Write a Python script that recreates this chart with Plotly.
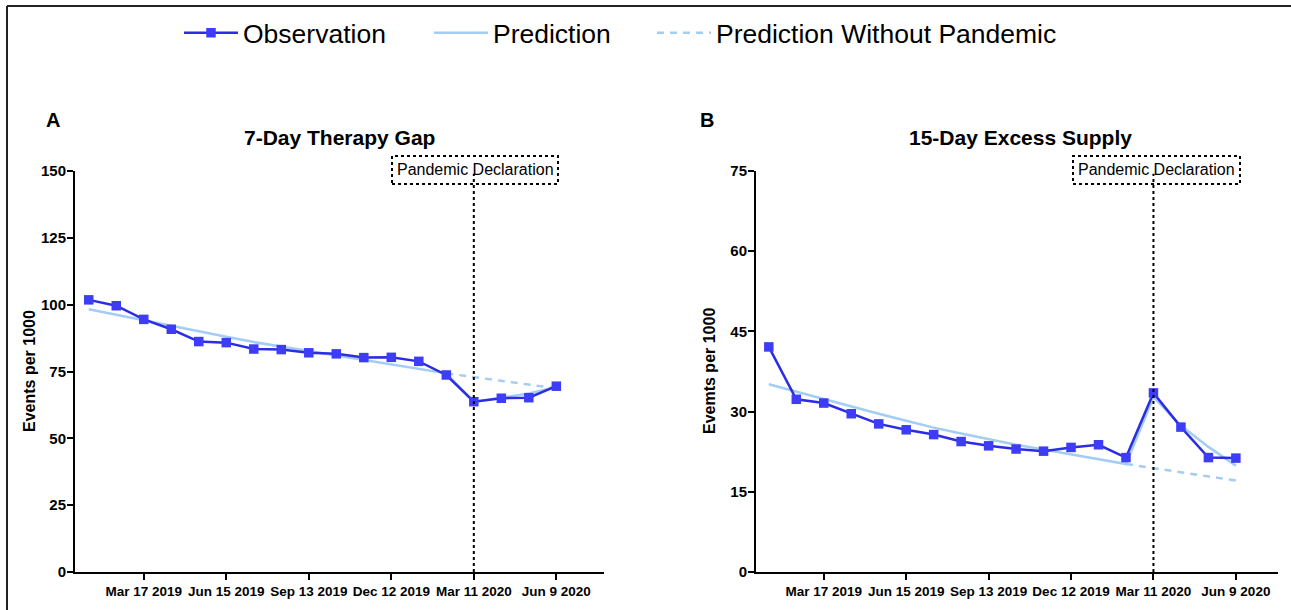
import plotly.graph_objects as go

# ---------------- data ----------------
dates = ["2019-01-16", "2019-02-15", "2019-03-17", "2019-04-16", "2019-05-16", "2019-06-15",
         "2019-07-15", "2019-08-14", "2019-09-13", "2019-10-13", "2019-11-12", "2019-12-12",
         "2020-01-11", "2020-02-10", "2020-03-11", "2020-04-10", "2020-05-10", "2020-06-09"]
cf_dates = ["2020-02-10", "2020-03-11", "2020-04-10", "2020-05-10", "2020-06-09"]

gap_obs = [101.8, 99.6, 94.5, 90.8, 86.2, 85.8, 83.4, 83.2, 82.0, 81.6, 80.2, 80.3, 78.8, 73.7,
           63.7, 65.0, 65.2, 69.5]
gap_pred = [98.3, 96.2, 94.2, 92.1, 90.0, 88.0, 86.0, 84.3, 82.7, 81.0, 79.4, 77.7, 76.0, 74.3,
            63.6, 65.1, 66.8, 69.2]
gap_cf = [74.3, 72.9, 71.5, 70.1, 68.7]

sup_obs = [42.1, 32.3, 31.6, 29.6, 27.7, 26.6, 25.7, 24.4, 23.6, 23.0, 22.6, 23.3, 23.8, 21.4,
           33.5, 27.1, 21.4, 21.3]
sup_pred = [35.1, 33.7, 32.4, 31.0, 29.6, 28.3, 27.0, 25.9, 24.8, 23.8, 22.9, 22.0, 21.1, 20.2,
            32.7, 27.4, 23.4, 19.9]
sup_cf = [20.2, 19.4, 18.6, 17.8, 17.1]

tick_dates = ["2019-03-17", "2019-06-15", "2019-09-13", "2019-12-12", "2020-03-11", "2020-06-09"]
tick_text = ["Mar 17 2019", "Jun 15 2019", "Sep 13 2019", "Dec 12 2019", "Mar 11 2020", "Jun 9 2020"]
gap_yticks = [0, 25, 50, 75, 100, 125, 150]
sup_yticks = [0, 15, 30, 45, 60, 75]
pandemic_date = "2020-03-11"

# ---------------- style ----------------
W, H = 1291, 610
OBS_LINE = "#2c2ce3"
OBS_MARK = "#3d3df7"
PRED = "#a3cdf4"
FONT = "Arial, Liberation Sans, sans-serif"


def px_x(p):
    return p / W


def px_y(p):
    return (H - p) / H


fig = go.Figure()

for i, (obs, pred, cf) in enumerate([(gap_obs, gap_pred, gap_cf), (sup_obs, sup_pred, sup_cf)]):
    xa = "x" if i == 0 else "x2"
    ya = "y" if i == 0 else "y2"
    first = i == 0
    fig.add_trace(go.Scatter(x=dates, y=pred, mode="lines", name="Prediction",
                             line=dict(color=PRED, width=2.5), xaxis=xa, yaxis=ya,
                             showlegend=first, legend="legend2"))
    fig.add_trace(go.Scatter(x=cf_dates, y=cf, mode="lines", name="Prediction Without Pandemic",
                             line=dict(color=PRED, width=2.5, dash="7px,6px"), xaxis=xa, yaxis=ya,
                             showlegend=first, legend="legend3"))
    fig.add_trace(go.Scatter(x=dates, y=obs, mode="lines+markers", name="Observation",
                             line=dict(color=OBS_LINE, width=2.5),
                             marker=dict(symbol="square", size=9.5, color=OBS_MARK),
                             xaxis=xa, yaxis=ya, showlegend=first, legend="legend"))

axis_common = dict(showline=True, linecolor="black", linewidth=2, ticks="outside",
                   ticklen=6, tickwidth=2, tickcolor="black", showgrid=False, zeroline=False,
                   automargin=False)

legend_common = dict(orientation="h", y=px_y(33), xanchor="left", yanchor="middle",
                     font=dict(size=26.5, family=FONT), itemwidth=54, bgcolor="rgba(0,0,0,0)")

fig.update_layout(
    width=W, height=H, margin=dict(l=0, r=0, t=0, b=0),
    paper_bgcolor="white", plot_bgcolor="white",
    font=dict(family=FONT, color="black"),
    xaxis=dict(domain=[px_x(75), px_x(604)], range=["2019-01-01", "2020-07-31"], type="date",
               tickvals=tick_dates, ticktext=tick_text, anchor="y",
               tickfont=dict(size=13.5, weight="bold", family=FONT), **axis_common),
    yaxis=dict(domain=[px_y(572), px_y(171)], range=[0, 150], tickvals=gap_yticks, anchor="x",
               ticklabelstandoff=-2,
               tickfont=dict(size=15, weight="bold", family=FONT), **axis_common),
    xaxis2=dict(domain=[px_x(756), px_x(1278)], range=["2019-01-02", "2020-07-25"], type="date",
                tickvals=tick_dates, ticktext=tick_text, anchor="y2",
                tickfont=dict(size=13.5, weight="bold", family=FONT), **axis_common),
    yaxis2=dict(domain=[px_y(572), px_y(171)], range=[0, 75], tickvals=sup_yticks, anchor="x2",
                ticklabelstandoff=-2,
                tickfont=dict(size=15, weight="bold", family=FONT), **axis_common),
    legend=dict(x=px_x(179), **legend_common),
    legend2=dict(x=px_x(429), **legend_common),
    legend3=dict(x=px_x(652), **legend_common),
    showlegend=True,
)

# frame lines (top and left)
fig.add_shape(type="line", xref="paper", yref="paper", x0=px_x(7), x1=1, y0=px_y(6), y1=px_y(6),
              line=dict(color="#222", width=2))
fig.add_shape(type="line", xref="paper", yref="paper", x0=px_x(7), x1=px_x(7), y0=0, y1=px_y(6),
              line=dict(color="#222", width=2))

# panel letters and titles
for letter, lx, title, tx, ytitle, yx in [("A", 44, "7-Day Therapy Gap", 339.5, "Events per 1000", 29),
                                          ("B", 698, "15-Day Excess Supply", 1020, "Evemts per 1000", 709)]:
    fig.add_annotation(text=letter, x=px_x(lx), y=px_y(120), xref="paper", yref="paper",
                       xanchor="left", yanchor="middle", showarrow=False,
                       font=dict(size=20, weight="bold", family=FONT))
    fig.add_annotation(text=title, x=px_x(tx), y=px_y(138), xref="paper", yref="paper",
                       xanchor="center", yanchor="middle", showarrow=False,
                       font=dict(size=21, weight="bold", family=FONT))
    fig.add_annotation(text=ytitle, x=px_x(yx), y=px_y(371), xref="paper", yref="paper",
                       xanchor="center", yanchor="middle", showarrow=False, textangle=-90,
                       font=dict(size=16, weight="bold", family=FONT))

# pandemic declaration markers
for (xa, ya, ytop, bx0, bx1) in [("x", "y", 149, 392, 558), ("x2", "y2", 74.5, 1073, 1240)]:
    fig.add_shape(type="line", xref=xa, yref=ya, x0=pandemic_date, x1=pandemic_date, y0=0, y1=ytop,
                  line=dict(color="black", width=2, dash="dot"))
    fig.add_shape(type="rect", xref="paper", yref="paper", x0=px_x(bx0), x1=px_x(bx1),
                  y0=px_y(184), y1=px_y(156), line=dict(color="black", width=2, dash="dot"))
    fig.add_annotation(text="Pandemic Declaration", x=px_x((bx0 + bx1) / 2), y=px_y(170),
                       xref="paper", yref="paper", xanchor="center", yanchor="middle",
                       showarrow=False, font=dict(size=16, family=FONT))

fig.write_html("out.html", config={"displayModeBar": False},
               post_script="document.body.style.margin='0px';")
